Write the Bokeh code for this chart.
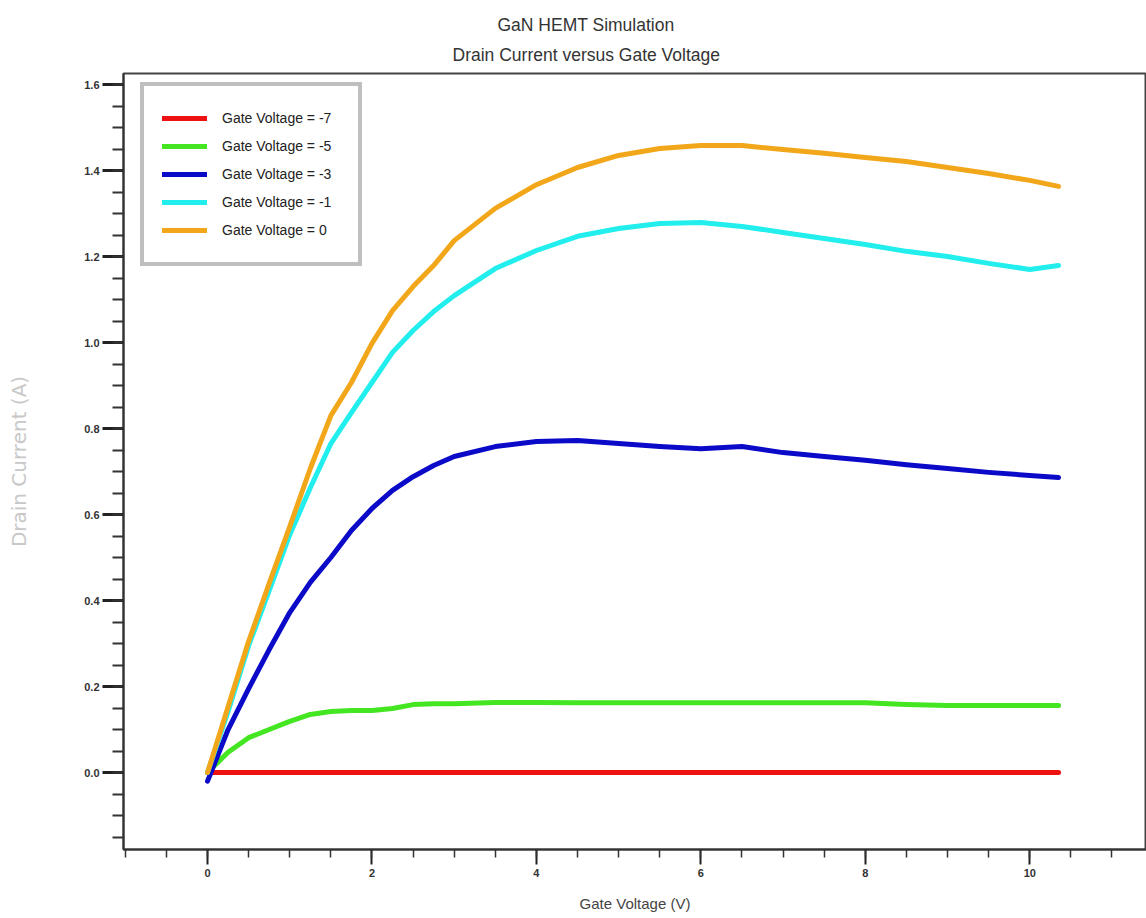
from bokeh.plotting import figure
from bokeh.models import (Legend, LegendItem, SingleIntervalTicker, Title,
                          PrintfTickFormatter, Range1d, ColumnDataSource)
from bokeh.embed import file_html
from bokeh.resources import INLINE

# ---------------- data ----------------
gate_v = [0, 0.25, 0.5, 0.75, 1.0, 1.25, 1.5, 1.75, 2.0, 2.25, 2.5, 2.75, 3.0,
          3.5, 4.0, 4.5, 5.0, 5.5, 6.0, 6.5, 7.0, 7.5, 8.0, 8.5, 9.0, 9.5,
          10.0, 10.35]

id_vg_m7 = [0.0] * len(gate_v)
id_vg_m5 = [0.0, 0.047, 0.081, 0.100, 0.119, 0.135, 0.142, 0.144, 0.144, 0.149,
            0.158, 0.160, 0.160, 0.163, 0.163, 0.162, 0.162, 0.162, 0.162,
            0.162, 0.162, 0.162, 0.162, 0.158, 0.156, 0.156, 0.156, 0.156]
id_vg_m3 = [-0.02, 0.100, 0.195, 0.286, 0.372, 0.442, 0.500, 0.563, 0.614,
            0.656, 0.688, 0.714, 0.735, 0.758, 0.770, 0.772, 0.765, 0.758,
            0.753, 0.758, 0.744, 0.735, 0.726, 0.716, 0.707, 0.698, 0.691,
            0.686]
id_vg_m1 = [0.0, 0.142, 0.295, 0.423, 0.553, 0.662, 0.765, 0.837, 0.907,
            0.977, 1.028, 1.072, 1.109, 1.172, 1.214, 1.247, 1.265, 1.277,
            1.279, 1.270, 1.256, 1.242, 1.228, 1.212, 1.200, 1.184, 1.170,
            1.179]
id_vg_0 = [0.0, 0.153, 0.305, 0.440, 0.572, 0.707, 0.830, 0.907, 0.998,
           1.074, 1.130, 1.179, 1.237, 1.312, 1.367, 1.407, 1.435, 1.451,
           1.458, 1.458, 1.449, 1.440, 1.430, 1.421, 1.407, 1.393, 1.377,
           1.363]

series_labels = ["Gate Voltage = -7", "Gate Voltage = -5", "Gate Voltage = -3",
                 "Gate Voltage = -1", "Gate Voltage = 0"]
series_values = [id_vg_m7, id_vg_m5, id_vg_m3, id_vg_m1, id_vg_0]
series_colors = ["#ee1111", "#44e622", "#0a0ac8", "#22eeee", "#f2a71a"]

title_line1 = "GaN HEMT Simulation"
title_line2 = "Drain Current versus Gate Voltage"
x_label = "Gate Voltage (V)"
y_label = "Drain Current (A)"

# ---------------- figure ----------------
W, H = 1146, 918
ML, MT, MB = 123, 73, 69
FRAME_H = H - MT - MB

p = figure(width=W, height=H, output_backend="svg", toolbar_location=None,
           x_range=Range1d(-1.022, 11.42), y_range=Range1d(-0.179, 1.6256),
           min_border_left=ML, min_border_right=0, min_border_top=MT,
           min_border_bottom=MB, title=title_line1)
p.background_fill_color = "white"
p.border_fill_color = "white"
p.outline_line_color = "#444444"
p.outline_line_width = 2
p.xgrid.visible = False
p.ygrid.visible = False

# titles: p.title is the outer line, the added Title sits next to the frame
title_style = dict(text_font="Liberation Sans", text_font_size="17.5px",
                   text_font_style="normal", text_color="#333333")
p.title.align = "left"
p.title.offset = 374
p.title.standoff = 0
for k, v in title_style.items():
    setattr(p.title, k, v)
p.add_layout(Title(text=title_line2, align="left", offset=329, standoff=17,
                   **title_style), "above")

renderers = []
for vals, col in zip(series_values, series_colors):
    src = ColumnDataSource(dict(x=gate_v, y=vals))
    r = p.line("x", "y", source=src, line_width=5, line_color=col,
               line_join="round", line_cap="round")
    renderers.append(r)

LEG_H = 181
legend = Legend(items=[LegendItem(label=lab, renderers=[r])
                       for lab, r in zip(series_labels, renderers)],
                location=(17, FRAME_H - 12 - LEG_H), padding=18, spacing=0,
                glyph_width=45, glyph_height=28, label_height=28,
                label_width=118, label_standoff=15,
                label_text_font="Liberation Sans",
                label_text_font_size="14px", label_text_color="#222222",
                border_line_color="#808080", border_line_width=4,
                background_fill_color="white", background_fill_alpha=1.0)
p.add_layout(legend)

# axes
xa = p.xaxis[0]
ya = p.yaxis[0]
xa.ticker = SingleIntervalTicker(interval=2, num_minor_ticks=4)
ya.ticker = SingleIntervalTicker(interval=0.2, num_minor_ticks=4)
xa.formatter = PrintfTickFormatter(format="%d")
ya.formatter = PrintfTickFormatter(format="%.1f")
for ax in (xa, ya):
    ax.axis_line_color = "#333333"
    ax.axis_line_width = 2
    ax.major_tick_line_color = "#222222"
    ax.minor_tick_line_color = "#333333"
    ax.major_tick_in = 0
    ax.minor_tick_in = 0
    ax.major_label_text_font = "Liberation Sans"
    ax.major_label_text_font_style = "bold"
    ax.major_label_text_font_size = "11px"
    ax.major_label_text_color = "#333333"
xa.major_tick_out = 15
xa.minor_tick_out = 8
xa.major_tick_line_width = 2
xa.minor_tick_line_width = 1.5
xa.major_label_standoff = 4
ya.major_tick_out = 21
ya.minor_tick_out = 11
ya.major_tick_line_width = 3
ya.minor_tick_line_width = 2
ya.major_label_standoff = 3

xa.axis_label = x_label
xa.axis_label_text_font = "Liberation Sans"
xa.axis_label_text_font_size = "15px"
xa.axis_label_text_font_style = "normal"
xa.axis_label_text_color = "#444444"
xa.axis_label_standoff = 15

ya.axis_label = y_label
ya.axis_label_text_font = "DejaVu Sans"
ya.axis_label_text_font_size = "20px"
ya.axis_label_text_font_style = "normal"
ya.axis_label_text_color = "#c8c8c8"
ya.axis_label_standoff = 50

open("out.html", "w").write(file_html(p, INLINE))
